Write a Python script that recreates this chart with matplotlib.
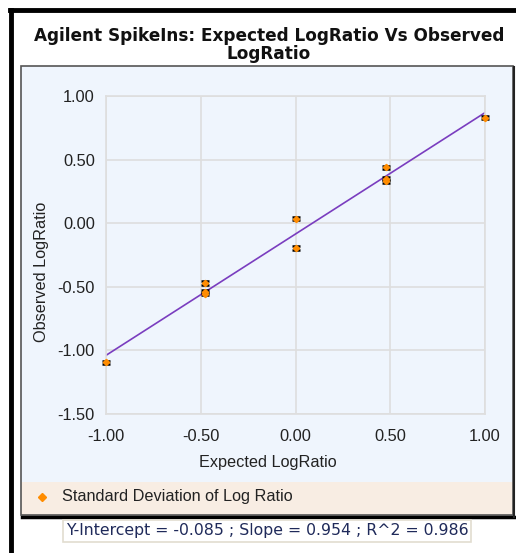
import numpy as np
import matplotlib
matplotlib.use("Agg")
import matplotlib.pyplot as plt
from matplotlib.patches import Rectangle
from matplotlib.lines import Line2D

# spike-in data
expected = [-1.0, -0.477, -0.477, -0.477, 0.0, 0.0, 0.477, 0.477, 0.477, 1.0]
observed = [-1.095, -0.47, -0.54, -0.555, 0.035, -0.195, 0.44, 0.35, 0.33, 0.83]
std_dev = [0.012, 0.012, 0.012, 0.012, 0.012, 0.012, 0.012, 0.012, 0.012, 0.012]

intercept = -0.085
slope = 0.954
r_squared = 0.986

x_ticks = [-1.0, -0.5, 0.0, 0.5, 1.0]
y_ticks = [-1.5, -1.0, -0.5, 0.0, 0.5, 1.0]

W, H = 516, 553
fig = plt.figure(figsize=(W / 100, H / 100), dpi=100)
fig.patch.set_facecolor("white")

def fx(px):
    return px / W

def fy(py):
    return 1 - py / H

# outer black frame (left and top)
fig.add_artist(Line2D([fx(11), fx(11)], [fy(10), fy(553)], color="black", lw=3.5, transform=fig.transFigure))
fig.add_artist(Line2D([fx(10), fx(516)], [fy(10), fy(10)], color="black", lw=3.5, transform=fig.transFigure))

# chart panel + legend band
panel_bg = "#eff5fd"
fig.add_artist(Rectangle((fx(21), fy(515)), fx(513) - fx(21), fy(66) - fy(515),
                         transform=fig.transFigure, facecolor=panel_bg, edgecolor="none", zorder=0))
fig.add_artist(Rectangle((fx(21), fy(515)), fx(513) - fx(21), fy(482) - fy(515),
                         transform=fig.transFigure, facecolor="#f8ede3", edgecolor="none", zorder=0))
fig.add_artist(Rectangle((fx(21), fy(515)), fx(513) - fx(21), fy(66) - fy(515),
                         transform=fig.transFigure, facecolor="none", edgecolor="#555555", lw=1.2, zorder=1))
# shadow at bottom and right
fig.add_artist(Line2D([fx(22), fx(514)], [fy(516.5), fy(516.5)], color="black", lw=2.5, transform=fig.transFigure))
fig.add_artist(Line2D([fx(514), fx(514)], [fy(67), fy(516.5)], color="#222222", lw=1.5, transform=fig.transFigure))

# title
fig.text(fx(269), fy(45), "Agilent SpikeIns: Expected LogRatio Vs Observed\nLogRatio",
         ha="center", va="center", fontsize=12.2, fontweight="bold", family="DejaVu Sans",
         color="#111111", linespacing=1.05)

ax = fig.add_axes([fx(106), fy(414), fx(485) - fx(106), fy(96) - fy(414)])
ax.set_facecolor(panel_bg)
ax.set_xlim(-1, 1)
ax.set_ylim(-1.5, 1)
ax.set_xticks(x_ticks)
ax.set_yticks(y_ticks)
ax.set_xticklabels(["%.2f" % v for v in x_ticks])
ax.set_yticklabels(["%.2f" % v for v in y_ticks])
ax.grid(True, color="#dedede", lw=1.2)
ax.set_axisbelow(True)
for s in ax.spines.values():
    s.set_color("#dedede")
    s.set_linewidth(1.2)
ax.tick_params(length=0, labelsize=11.8, labelcolor="#222222", pad=8)
ax.tick_params(axis="x", pad=11)
for lab in ax.get_xticklabels() + ax.get_yticklabels():
    lab.set_family("Liberation Sans")

# regression line
xs = np.array([-1.0, 1.0])
ax.plot(xs, intercept + slope * xs, color="#7a3dbf", lw=1.2, zorder=2)

# points with error bars
ax.errorbar(expected, observed, yerr=std_dev, fmt="D", color="#ff8c00", ms=3.2,
            mec="#ff8c00", ecolor="black", elinewidth=0.8, capsize=3, capthick=1.8,
            zorder=3, clip_on=False)

fig.text(fx(42), fy(272), "Observed LogRatio", rotation=90, ha="center", va="center",
         fontsize=11.7, family="Liberation Sans", color="#222222")
fig.text(fx(268), fy(463), "Expected LogRatio", ha="center", va="center",
         fontsize=11.7, family="Liberation Sans", color="#222222")

# legend
fig.add_artist(Line2D([fx(42)], [fy(497)], marker="D", ms=4.5, color="#ff8c00",
                      lw=0, transform=fig.transFigure))
fig.text(fx(62), fy(497), "Standard Deviation of Log Ratio", ha="left", va="center",
         fontsize=11.7, family="Liberation Sans", color="#222222")

# fit summary box
fig.text(fx(267), fy(531),
         "Y-Intercept = %.3f ; Slope = %.3f ; R^2 = %.3f" % (intercept, slope, r_squared),
         ha="center", va="center", fontsize=11.3, family="DejaVu Sans", color="#1f2a5a",
         bbox=dict(boxstyle="square,pad=0.2", facecolor="white", edgecolor="#e2ddd0", lw=1.2))

fig.savefig("out.png", dpi=100)
